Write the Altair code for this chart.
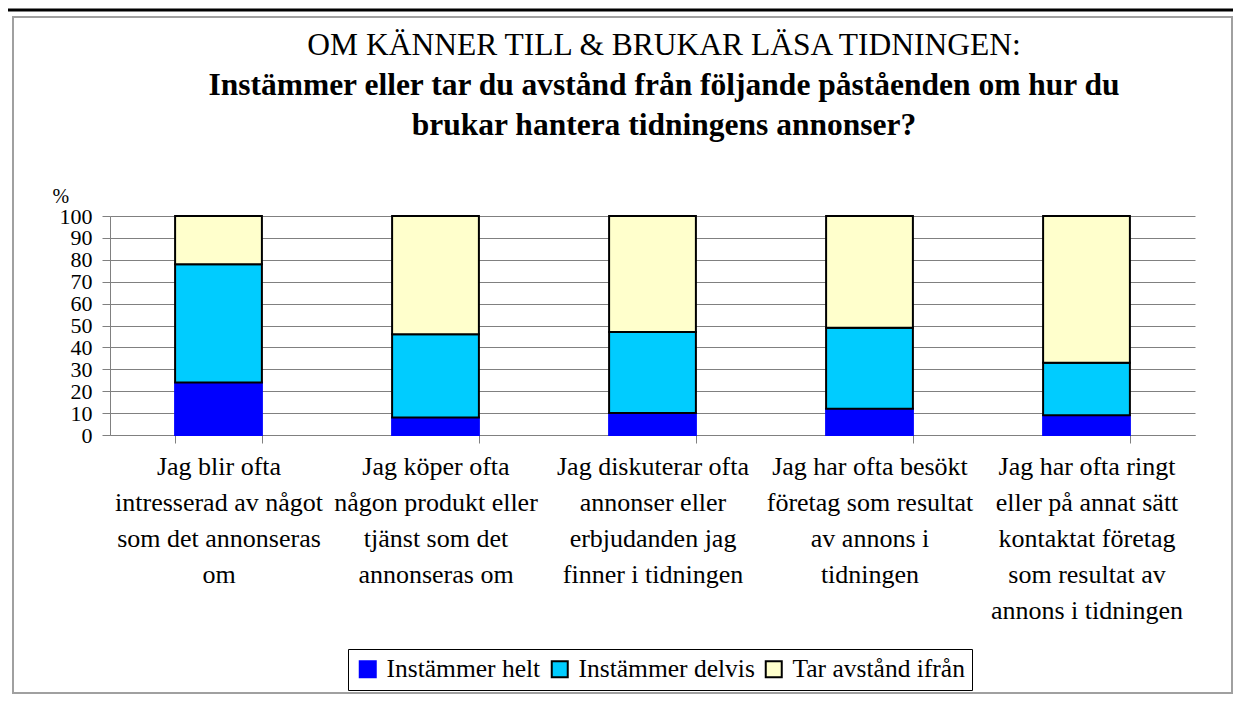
import altair as alt
import pandas as pd

categories = [
    "Jag blir ofta\nintresserad av något\nsom det annonseras\nom",
    "Jag köper ofta\nnågon produkt eller\ntjänst som det\nannonseras om",
    "Jag diskuterar ofta\nannonser eller\nerbjudanden jag\nfinner i tidningen",
    "Jag har ofta besökt\nföretag som resultat\nav annons i\ntidningen",
    "Jag har ofta ringt\neller på annat sätt\nkontaktat företag\nsom resultat av\nannons i tidningen",
]
series = ["Instämmer helt", "Instämmer delvis", "Tar avstånd ifrån"]
instammer_helt = [24, 8, 10, 12, 9]
instammer_delvis = [54, 38, 37, 37, 24]
tar_avstand = [22, 54, 53, 51, 67]
y_ticks = [0, 10, 20, 30, 40, 50, 60, 70, 80, 90, 100]
fill_colors = ["#0000FF", "#00CCFF", "#FFFFCC"]
stroke_colors = ["#0000FF", "#000000", "#000000"]

title_line1 = "OM KÄNNER TILL & BRUKAR LÄSA TIDNINGEN:"
title_line2 = "Instämmer eller tar du avstånd från följande påståenden om hur du"
title_line3 = "brukar hantera tidningens annonser?"

rows = []
for i, cat in enumerate(categories):
    for j, (name, vals) in enumerate(zip(series, [instammer_helt, instammer_delvis, tar_avstand])):
        rows.append({"Påstående": cat, "Svar": name, "Andel": vals[i], "ordning": j})
df = pd.DataFrame(rows)

FONT = "Liberation Serif"
W, H = 1085, 219

legend = alt.Legend(title=None, orient="none", legendX=238, legendY=433, direction="horizontal")

bars = alt.Chart(df).mark_bar(strokeWidth=2).encode(
    x=alt.X(
        "Påstående:N",
        sort=categories,
        scale=alt.Scale(paddingInner=0.6, paddingOuter=0.3),
        axis=alt.Axis(
            title=None, labelAngle=0, tickBand="extent", tickSize=8,
            domainColor="#808080", tickColor="#808080",
            labelFont=FONT, labelFontSize=26, labelColor="black",
            labelLineHeight=36, labelPadding=10, labelBaseline="top",
            labelLimit=400, labelExpr="split(datum.label, '\\n')",
        ),
    ),
    y=alt.Y(
        "Andel:Q", stack="zero",
        scale=alt.Scale(domain=[0, 100], nice=False),
        axis=alt.Axis(
            values=y_ticks, title="%", titleAngle=0, titleX=-58, titleY=-14,
            titleAlign="left", titleBaseline="alphabetic",
            titleFont=FONT, titleFontSize=20, titleFontWeight="normal", titleColor="black",
            labelFont=FONT, labelFontSize=22, labelColor="black", labelPadding=10,
            labelOverlap=False, labelFlush=False,
            tickSize=8, tickColor="#808080", domainColor="#808080",
            gridColor="#808080", gridWidth=1,
        ),
    ),
    color=alt.Color("Svar:N", scale=alt.Scale(domain=series, range=fill_colors), legend=legend),
    stroke=alt.Stroke("Svar:N", scale=alt.Scale(domain=series, range=stroke_colors), legend=legend),
    order=alt.Order("ordning:Q"),
)

one = alt.Data(values=[{"k": 1}])
frame = alt.Chart(one).mark_rect(fillOpacity=0, stroke="#A0A0A0", strokeWidth=2).encode(
    x=alt.value(-97), x2=alt.value(1122), y=alt.value(-199), y2=alt.value(477)
)
topline = alt.Chart(one).mark_rule(color="black", strokeWidth=3).encode(
    x=alt.value(-102), x2=alt.value(1125), y=alt.value(-206)
)

def title_text(txt, y, bold):
    return alt.Chart(alt.Data(values=[{"t": txt}])).mark_text(
        font=FONT, fontSize=31.5, fontWeight="bold" if bold else "normal",
        color="black", align="center", baseline="middle",
    ).encode(text="t:N", x=alt.value(554), y=alt.value(y))

t1 = title_text(title_line1, -170, False)
t2 = title_text(title_line2, -130, True)
t3 = title_text(title_line3, -90, True)

chart = alt.layer(frame, topline, t1, t2, t3, bars).properties(
    width=W, height=H,
    padding={"left": 102, "top": 208, "right": 38, "bottom": 259},
    autosize=alt.AutoSizeParams(type="none"),
).configure_view(stroke=None).configure_legend(
    strokeColor="black", strokeWidth=1, fillColor="white", padding=7,
    symbolType="square", symbolSize=256, symbolStrokeWidth=2,
    labelFont=FONT, labelFontSize=25.5, labelColor="black", labelLimit=400,
    labelOffset=6, columnPadding=6,
)

chart.save("out.html", embed_options={"renderer": "svg", "actions": False})
